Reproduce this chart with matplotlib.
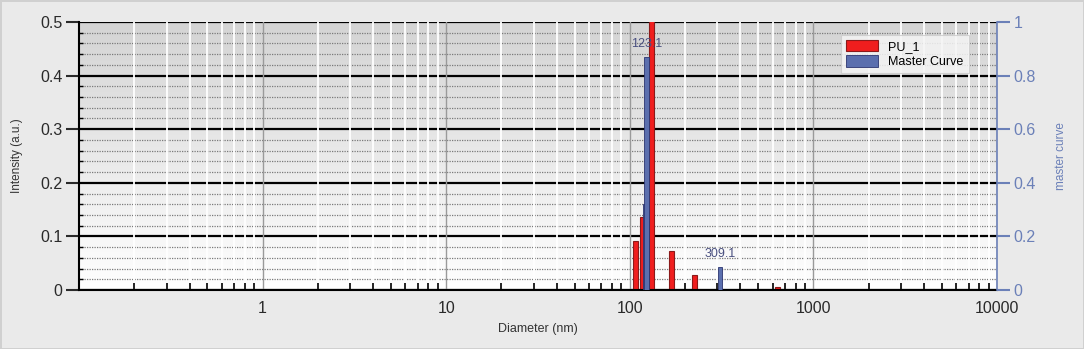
# DLS size distribution: intensity bars for PU_1 and the master curve

import matplotlib.pyplot as plt
import numpy as np
from matplotlib.ticker import FixedLocator, LogLocator, NullFormatter, MultipleLocator

plt.rcParams["font.family"] = ["Liberation Sans", "DejaVu Sans"]

# PU_1 intensity (left axis)
pu_diam = [106.9, 117.2, 131.3, 169.5, 226.0, 636.0]
pu_int = [0.091, 0.137, 0.52, 0.073, 0.028, 0.005]

# Master curve (right axis)
mc_diam = [119.6, 123.1, 309.1]
mc_val = [0.32, 0.87, 0.086]
mc_px = [2, 4.7, 3.5]
mc_labels = ["", "123.1", "309.1"]

red = "#f01e1e"
blue = "#5b6fae"
axis_blue = "#6b80b8"

fig = plt.figure(figsize=(10.84, 3.49), dpi=100)
fig.patch.set_facecolor("#eaeaea")
fig.patch.set_edgecolor("#d0d0d0")
fig.patch.set_linewidth(2)

ax = fig.add_axes([0.0729, 0.169, 0.8468, 0.768])
ax.set_xscale("log")

# gradient background, grey at the top fading to white
shade = np.linspace(1.0, 0.83, 256)
grad = np.dstack([shade, shade, shade]).reshape(256, 1, 3)
ax.imshow(grad, extent=[0, 1, 0, 1], transform=ax.transAxes,
          aspect="auto", zorder=0, origin="lower")
ax.patch.set_visible(False)


def log_widths(d, px=5):
    # bar of constant pixel width on a log axis (one decade ~ 184 px)
    f = 10 ** (np.asarray(px) / 184 / 2)
    d = np.asarray(d)
    return d / f, d * f - d / f


left, w = log_widths(pu_diam, 5)
ax.bar(left, pu_int, width=w, align="edge", color=red, edgecolor="#8b1a1a",
       linewidth=0.8, zorder=2, label="PU_1")

ax.set_xlim(0.1, 10000)
ax.set_ylim(0, 0.5)

ax.xaxis.set_major_locator(FixedLocator([1, 10, 100, 1000, 10000]))
ax.xaxis.set_major_formatter(plt.FuncFormatter(lambda v, p: f"{v:g}"))
ax.xaxis.set_minor_locator(LogLocator(base=10, subs=np.arange(2, 10)))
ax.xaxis.set_minor_formatter(NullFormatter())
ax.yaxis.set_major_locator(MultipleLocator(0.1))
ax.yaxis.set_minor_locator(MultipleLocator(0.02))
ax.yaxis.set_major_formatter(plt.FuncFormatter(lambda v, p: f"{v:g}"))

ax.set_axisbelow(True)
ax.grid(True, which="major", axis="y", color="black", linewidth=1.6)
ax.grid(True, which="minor", axis="y", color="#7a7a7a", linewidth=0.9,
        linestyle=(0, (1, 1)))
ax.grid(True, which="major", axis="x", color="#9a9a9a", linewidth=1.0)
ax.grid(True, which="minor", axis="x", color="white", linewidth=1.3)
ax.xaxis.set_zorder(0.6)

ax.tick_params(axis="y", which="major", direction="out", length=9.5, width=1.5,
               labelsize=11.5, colors="#2a2a2a", pad=2.5)
ax.tick_params(axis="y", which="minor", direction="in", length=3, width=1)
ax.tick_params(axis="x", which="major", length=0, labelsize=11.5, pad=8,
               colors="#2a2a2a")
ax.tick_params(axis="x", which="minor", direction="in", length=5, width=1.2)

for side in ["top", "right"]:
    ax.spines[side].set_visible(False)
ax.spines["left"].set_linewidth(1.5)
ax.spines["bottom"].set_linewidth(1.5)

ax.set_xlabel("Diameter (nm)", fontsize=9, color="#333333", labelpad=5)
ax.set_ylabel("Intensity (a.u.)", fontsize=8.5, color="#333333", labelpad=12)

# master curve on its own right axis
ax2 = ax.twinx()
left2, w2 = log_widths(mc_diam, mc_px)
ax2.bar(left2, mc_val, width=w2, align="edge", color=blue, edgecolor="#2c3570",
        linewidth=0.6, zorder=2, label="Master Curve")
for d, v, lab in zip(mc_diam, mc_val, mc_labels):
    if lab:
        ax2.annotate(lab, xy=(d, v), xytext=(0, 5), textcoords="offset points",
                     ha="center", va="bottom", fontsize=9, color="#4a5080")
ax2.set_ylim(0, 1)
ax2.yaxis.set_major_locator(MultipleLocator(0.2))
ax2.yaxis.set_major_formatter(plt.FuncFormatter(lambda v, p: f"{v:g}"))
ax2.tick_params(axis="y", direction="out", length=9.5, width=1.5,
                labelsize=11.5, colors=axis_blue, pad=2.5)
for side in ["top", "left", "bottom"]:
    ax2.spines[side].set_visible(False)
ax2.spines["right"].set_color(axis_blue)
ax2.spines["right"].set_linewidth(1.2)
ax2.set_ylabel("master curve", fontsize=8.5, color=axis_blue, labelpad=14)

h1, l1 = ax.get_legend_handles_labels()
h2, l2 = ax2.get_legend_handles_labels()
leg = ax2.legend(h1 + h2, l1 + l2, loc="upper right",
                 bbox_to_anchor=(0.976, 0.975), fontsize=9, frameon=True,
                 fancybox=False, facecolor="#f4f4f4", edgecolor="#cccccc",
                 handlelength=2.6, handleheight=1.0, borderpad=0.4,
                 labelspacing=0.2, framealpha=0.85)
leg.get_frame().set_linewidth(0.8)

fig.savefig("out.png", dpi=100, facecolor=fig.get_facecolor(),
            edgecolor=fig.get_edgecolor())
